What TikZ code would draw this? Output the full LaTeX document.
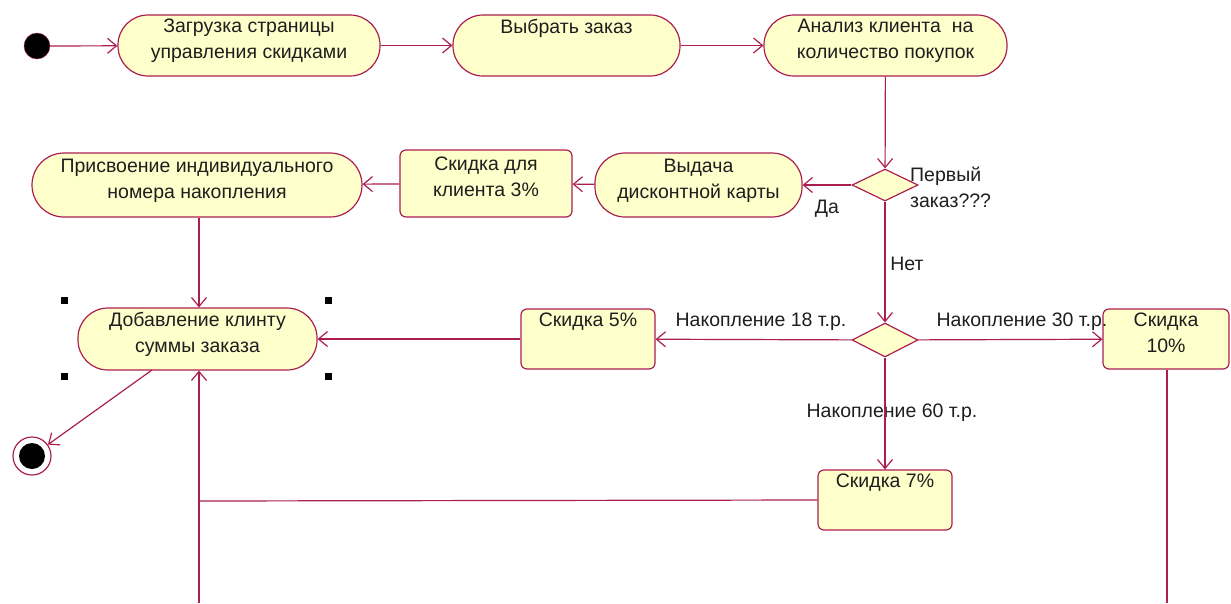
\documentclass[tikz,border=0pt]{standalone}
\usepackage{fontspec}
\setmainfont{Liberation Sans}
\usetikzlibrary{arrows.meta,shapes.geometric}
\definecolor{umlred}{RGB}{170,30,80}
\definecolor{umlfill}{RGB}{255,255,204}
\definecolor{umltext}{RGB}{30,30,30}
\begin{document}
\begin{tikzpicture}[x=1pt,y=-1pt,
  font=\fontsize{19.5}{26}\selectfont, text=umltext,
  stad/.style={draw=umlred, fill=umlfill, line width=1.2pt, rounded corners=30pt, align=center, inner sep=2pt, text depth=13pt},
  actbox/.style={draw=umlred, fill=umlfill, line width=1.2pt, rounded corners=6pt, align=center, inner sep=2pt, text depth=13pt},
  dec/.style={draw=umlred, fill=umlfill, line width=1.2pt, diamond, inner sep=0pt},
  flow/.style={draw=umlred, line width=1.2pt, -{Straight Barb[length=9pt,width=15pt,line width=1.2pt]}},
  plain/.style={draw=umlred, line width=1.2pt},
  lbl/.style={inner sep=0pt, align=left},
  handle/.style={fill=black, minimum size=7pt, inner sep=0pt}
]
\useasboundingbox (0,0) rectangle (1231,603);

% nodes
\node[circle, fill=black, draw=umlred, minimum size=26pt, inner sep=0pt] (init) at (37,46) {};
\node[stad, minimum width=262pt, minimum height=61pt] (load) at (249,45.5) {Загрузка страницы\\управления скидками};
\node[stad, minimum width=227pt, minimum height=61pt] (choose) at (566.5,45.5) {Выбрать заказ\\\strut};
\node[stad, minimum width=243pt, minimum height=61pt] (analyze) at (885.5,45.5) {Анализ клиента~ на\\количество покупок};
\node[dec, minimum width=66pt, minimum height=32pt] (d1) at (885,185) {};
\node[stad, minimum width=207pt, minimum height=64pt] (card) at (698.5,185) {Выдача\\дисконтной карты};
\node[actbox, minimum width=172pt, minimum height=67pt] (sk3) at (486,183.5) {Скидка для\\клиента 3\%};
\node[stad, minimum width=330pt, minimum height=64pt, rounded corners=32pt] (assign) at (197,185) {Присвоение индивидуального\\номера накопления};
\node[stad, minimum width=239pt, minimum height=62pt] (add) at (197.5,339) {Добавление клинту\\суммы заказа};
\node[dec, minimum width=66pt, minimum height=34pt] (d2) at (885,340) {};
\node[actbox, minimum width=134pt, minimum height=60pt] (sk5) at (588,339) {Скидка 5\%\\\strut};
\node[actbox, minimum width=126pt, minimum height=60pt] (sk10) at (1166,339) {Скидка\\10\%};
\node[actbox, minimum width=134pt, minimum height=60pt] (sk7) at (885,500) {Скидка 7\%\\\strut};
\node[circle, draw=umlred, fill=white, line width=1.2pt, minimum size=38pt, inner sep=0pt] (final) at (32,456) {};
\node[circle, fill=black, minimum size=26pt, inner sep=0pt] (finalin) at (final.center) {};

% selection handles
\node[handle] (h1) at (64,300) {};
\node[handle] (h2) at (328,300) {};
\node[handle] (h3) at (64,376) {};
\node[handle] (h4) at (328,376) {};

% labels
\node[lbl, anchor=north west] (q1) at (910,167) {Первый\\заказ???};
\node[lbl] (yes) at (827,209) {Да};
\node[lbl] (no) at (907,264) {Нет};
\node[lbl] (l18) at (761,322) {Накопление 18 т.р.};
\node[lbl] (l30) at (1022,322) {Накопление 30 т.р.};
\node[lbl] (l60) at (892,413) {Накопление 60 т.р.};

% coordinates
\coordinate (bot10) at (1167,603);
\coordinate (bot) at (199,603);
\coordinate (join) at (199,501);
\coordinate (addbl) at (152,370);

% connectors
\draw[flow] (init) -- (load);
\draw[flow] (load) -- (choose);
\draw[flow] (choose) -- (analyze);
\draw[flow] (analyze) -- (d1);
\draw[flow] (d1) -- (card);
\draw[flow] (card) -- (sk3);
\draw[flow] (sk3) -- (assign);
\draw[flow] (assign.south -| join) -- (add.north -| join);
\draw[flow] (d1) -- (d2);
\draw[flow] (d2) -- (sk5);
\draw[flow] (sk5) -- (add);
\draw[flow] (d2) -- (sk10);
\draw[plain] (sk10.south -| bot10) -- (bot10);
\draw[flow] (d2) -- (sk7);
\draw[plain] (sk7.west) -- (join);
\draw[flow] (bot) -- (add.south -| bot);
\draw[flow] (addbl) -- (final);
\end{tikzpicture}
\end{document}
